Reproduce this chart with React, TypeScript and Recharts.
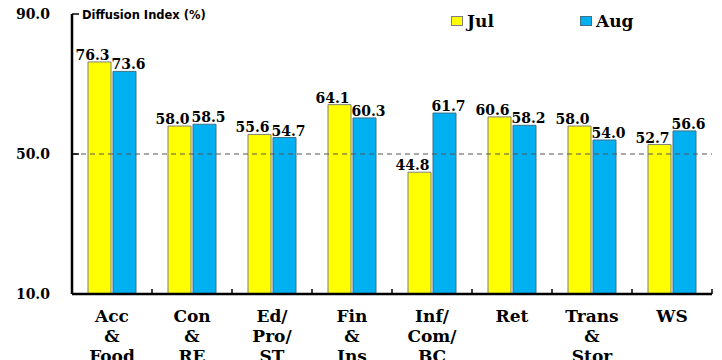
import { Bar, BarChart, LabelList, ReferenceLine, XAxis, YAxis } from 'recharts'

const SECTORS = ['Acc & Food', 'Con & RE', 'Ed/ Pro/ ST', 'Fin & Ins', 'Inf/ Com/ BC', 'Ret', 'Trans & Stor', 'WS']
const JUL = [76.3, 58.0, 55.6, 64.1, 44.8, 60.6, 58.0, 52.7]
const AUG = [73.6, 58.5, 54.7, 60.3, 61.7, 58.2, 54.0, 56.6]
const Y_TICKS = [10, 50, 90]

const SERIES = [
  { key: 'jul', name: 'Jul', fill: '#ffff00', stroke: '#7f7f7f', dx: -7 },
  { key: 'aug', name: 'Aug', fill: '#00b0f0', stroke: '#3f6f86', dx: 4 },
]

const data = SECTORS.map((s, i) => ({ sector: s, jul: JUL[i], aug: AUG[i] }))

const SERIF = '"DejaVu Serif", serif'

function SectorTick(props: any) {
  const { x, y, payload, index } = props
  const half = payload?.offset || 40
  const lines = String(payload.value).split(' ')
  return (
    <g>
      <line x1={x - half} x2={x - half} y1={y} y2={y - 5} stroke="#000" strokeWidth={1.5} />
      {index === SECTORS.length - 1 && (
        <line x1={x + half} x2={x + half} y1={y} y2={y - 5} stroke="#000" strokeWidth={1.5} />
      )}
      {lines.map((l, i) => (
        <text key={i} x={x} y={y + 28 + i * 20} textAnchor="middle" fontFamily={SERIF} fontWeight="bold" fontSize={17} fill="#000">
          {l}
        </text>
      ))}
    </g>
  )
}

// legend sits on top of the chart, outside recharts' layout so it doesn't eat plot space
function LegendBox() {
  return (
    <div style={{ position: 'absolute', top: 11, left: 451, display: 'flex', fontFamily: SERIF, fontWeight: 'bold', fontSize: 17, color: '#000' }}>
      {SERIES.map((s) => (
        <div key={s.key} style={{ display: 'flex', alignItems: 'center', width: 129 }}>
          <span style={{ display: 'inline-block', width: 10, height: 8, background: s.fill, border: `1px solid ${s.stroke}`, marginRight: 4 }} />
          {s.name}
        </div>
      ))}
    </div>
  )
}

export default function App() {
  return (
    <div style={{ position: 'absolute', left: 0, top: 0, width: 722, height: 360, background: '#fff', overflow: 'hidden' }}>
      <BarChart width={722} height={360} data={data} margin={{ top: 14, right: 10, bottom: 0, left: 0 }} barSize={23} barGap={2}>
        <XAxis
          dataKey="sector"
          height={66}
          interval={0}
          tickLine={false}
          tickSize={0}
          tickMargin={0}
          tick={<SectorTick />}
          axisLine={{ stroke: '#000', strokeWidth: 2.5 }}
        />
        <YAxis
          width={72}
          domain={[10, 90]}
          ticks={Y_TICKS}
          interval={0}
          tickSize={-7}
          tickMargin={29}
          tickFormatter={(v: number) => v.toFixed(1)}
          tick={{ fill: '#000', fontFamily: SERIF, fontWeight: 'bold', fontSize: 14 }}
          tickLine={{ stroke: '#000', strokeWidth: 1.5 }}
          axisLine={{ stroke: '#000', strokeWidth: 2.5 }}
        />
        <ReferenceLine y={50} stroke="#555" strokeDasharray="5 4" strokeWidth={1} />
        {SERIES.map((s) => (
          <Bar key={s.key} dataKey={s.key} name={s.name} fill={s.fill} stroke={s.stroke} strokeWidth={1} isAnimationActive={false}>
            <LabelList dataKey={s.key} position="top" offset={2} dx={s.dx} formatter={(v: any) => Number(v).toFixed(1)} fill="#000" fontFamily={SERIF} fontWeight="bold" fontSize={14} />
          </Bar>
        ))}
        <text x={82} y={19} fontFamily='"DejaVu Sans", sans-serif' fontWeight="bold" fontSize={11.5} fill="#000">
          Diffusion Index (%)
        </text>
      </BarChart>
      <LegendBox />
    </div>
  )
}
